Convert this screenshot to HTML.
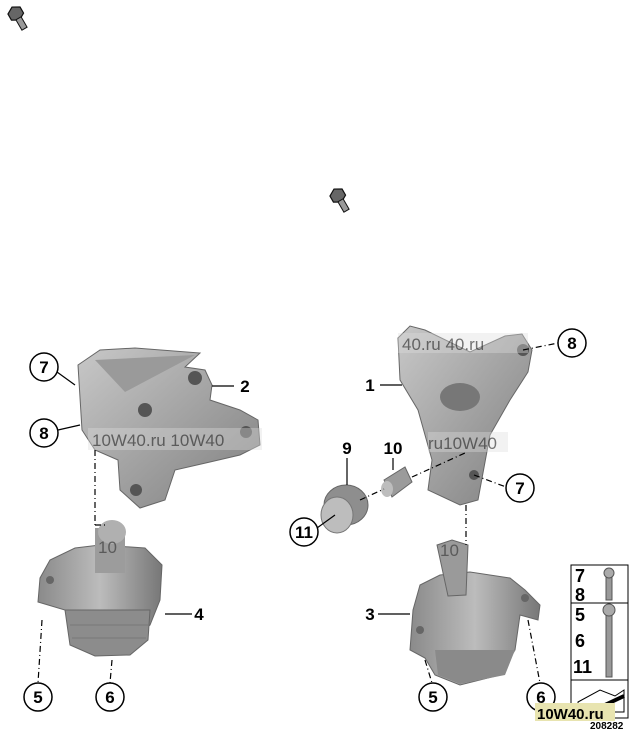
<!DOCTYPE html>
<html><head><meta charset="utf-8"><style>
html,body{margin:0;padding:0;background:#fff}
svg{display:block}
text{font-family:"Liberation Sans",sans-serif;font-weight:bold;fill:#000}
.wm{font-weight:normal;fill:#444;font-size:17px}
</style></head><body>
<svg width="629" height="733" viewBox="0 0 629 733" xmlns="http://www.w3.org/2000/svg">
<defs>
<linearGradient id="g1" x1="0" y1="0" x2="1" y2="1"><stop offset="0" stop-color="#c8c8c8"/><stop offset="1" stop-color="#7e7e7e"/></linearGradient>
<linearGradient id="g2" x1="0" y1="0" x2="1" y2="0"><stop offset="0" stop-color="#8a8a8a"/><stop offset="0.5" stop-color="#bcbcbc"/><stop offset="1" stop-color="#777"/></linearGradient>
</defs>
<!-- bolt icons -->
<g transform="translate(16,14) rotate(-30)"><polygon points="-7,-4 0,-8 7,-4 7,3 0,7 -7,3" fill="#666" stroke="#111" stroke-width="1.2"/><rect x="-3" y="5" width="6" height="12" fill="#999" stroke="#111"/></g>
<g transform="translate(338,196) rotate(-30)"><polygon points="-7,-4 0,-8 7,-4 7,3 0,7 -7,3" fill="#666" stroke="#111" stroke-width="1.2"/><rect x="-3" y="5" width="6" height="12" fill="#999" stroke="#111"/></g>

<!-- left bracket -->
<path d="M78,365 L100,350 L135,348 L200,353 L185,367 L205,370 L212,385 L210,400 L240,410 L258,420 L260,445 L240,455 L210,462 L175,470 L165,500 L140,508 L120,490 L118,460 L95,450 L82,430 Z" fill="url(#g1)" stroke="#666"/>
<path d="M95,360 L195,355 L125,392 Z" fill="#9a9a9a"/>
<circle cx="195" cy="378" r="7" fill="#555"/><circle cx="145" cy="410" r="7" fill="#555"/><circle cx="246" cy="432" r="6" fill="#555"/><circle cx="136" cy="490" r="6" fill="#555"/>
<!-- left mount -->
<path d="M40,578 L50,560 L75,548 L100,545 L145,548 L162,565 L160,600 L150,625 L130,640 L100,648 L75,640 L65,610 L38,602 Z" fill="url(#g2)" stroke="#666"/>
<rect x="95" y="528" width="30" height="45" fill="#9c9c9c"/><ellipse cx="112" cy="532" rx="14" ry="12" fill="#b0b0b0"/>
<path d="M65,610 L150,610 L148,640 L130,655 L95,656 L70,645 Z" fill="#8c8c8c" stroke="#666"/>
<path d="M70,625 L148,625 M72,638 L146,638" stroke="#777"/>
<circle cx="50" cy="580" r="4" fill="#666"/>

<!-- right bracket -->
<path d="M398,338 L410,326 L425,330 L470,352 L505,336 L522,334 L532,350 L528,372 L510,400 L490,435 L478,500 L460,505 L428,490 L432,460 L418,410 L400,380 Z" fill="url(#g1)" stroke="#666"/>
<ellipse cx="460" cy="397" rx="20" ry="14" fill="#777"/>
<circle cx="523" cy="350" r="6" fill="#555"/><circle cx="474" cy="475" r="5" fill="#555"/>
<!-- bushings -->
<ellipse cx="346" cy="505" rx="22" ry="20" fill="#8e8e8e" stroke="#666"/><ellipse cx="337" cy="515" rx="16" ry="18" fill="#bdbdbd" stroke="#777"/>
<path d="M384,480 L405,467 L412,482 L392,497 Z" fill="#9b9b9b" stroke="#666"/><ellipse cx="387" cy="489" rx="6" ry="8" fill="#bdbdbd"/>
<!-- right mount -->
<path d="M413,610 L420,585 L440,575 L470,572 L510,578 L525,590 L540,605 L538,620 L520,615 L515,650 L500,675 L460,685 L435,675 L425,658 L410,650 Z" fill="url(#g2)" stroke="#666"/>
<path d="M437,545 L452,540 L468,545 L466,595 L448,596 Z" fill="#9a9a9a" stroke="#666"/>
<path d="M435,650 L515,650 L505,675 L460,684 L438,675 Z" fill="#8a8a8a"/>
<circle cx="420" cy="630" r="4" fill="#666"/><circle cx="525" cy="598" r="4" fill="#666"/>

<!-- watermarks -->
<g opacity="0.75">
<rect x="88" y="428" width="174" height="22" fill="#ddd" opacity="0.5"/>
<text class="wm" x="92" y="446">10W40.ru 10W40</text>
<rect x="398" y="333" width="130" height="20" fill="#ddd" opacity="0.5"/>
<text class="wm" x="402" y="350">40.ru  40.ru</text>
<rect x="428" y="432" width="80" height="20" fill="#ddd" opacity="0.5"/>
<text class="wm" x="428" y="449">ru10W40</text>
<text class="wm" x="98" y="553">10</text><text class="wm" x="440" y="556">10</text>
</g>

<!-- leader lines -->
<g stroke="#000" stroke-width="1.2" fill="none">
<line x1="57" y1="372" x2="75" y2="385"/><line x1="58" y1="430" x2="80" y2="425"/>
<line x1="212" y1="386" x2="234" y2="386"/><line x1="165" y1="614" x2="192" y2="614"/>
<line x1="380" y1="385" x2="402" y2="385"/><line x1="378" y1="614" x2="410" y2="614"/>
<line x1="347" y1="458" x2="347" y2="485"/><line x1="393" y1="458" x2="393" y2="470"/>
<line x1="317" y1="528" x2="335" y2="515"/>
<g stroke-dasharray="6,3,1,3">
<line x1="95" y1="450" x2="95" y2="525"/><line x1="95" y1="525" x2="105" y2="525"/>
<line x1="523" y1="350" x2="558" y2="343"/><line x1="474" y1="475" x2="506" y2="487"/>
<line x1="412" y1="477" x2="465" y2="453"/><line x1="360" y1="500" x2="384" y2="489"/>
<line x1="466" y1="505" x2="466" y2="545"/>
<line x1="42" y1="620" x2="38" y2="683"/><line x1="112" y1="660" x2="110" y2="683"/>
<line x1="425" y1="660" x2="432" y2="683"/><line x1="528" y1="620" x2="540" y2="683"/>
</g>
</g>
<!-- circles -->
<g fill="#fff" stroke="#000" stroke-width="1.5">
<circle cx="44" cy="367" r="14"/><circle cx="44" cy="433" r="14"/><circle cx="38" cy="697" r="14"/><circle cx="110" cy="697" r="14"/>
<circle cx="572" cy="343" r="14"/><circle cx="520" cy="488" r="14"/><circle cx="304" cy="532" r="14"/><circle cx="433" cy="697" r="14"/><circle cx="541" cy="697" r="14"/>
</g>
<g font-size="17" text-anchor="middle">
<text x="44" y="373">7</text><text x="44" y="439">8</text><text x="38" y="703">5</text><text x="110" y="703">6</text>
<text x="572" y="349">8</text><text x="520" y="494">7</text><text x="304" y="538">11</text><text x="433" y="703">5</text><text x="541" y="703">6</text>
<text x="245" y="392">2</text><text x="199" y="620">4</text><text x="370" y="391">1</text><text x="370" y="620">3</text>
<text x="347" y="454">9</text><text x="393" y="454">10</text>
</g>
<!-- legend -->
<rect x="571" y="565" width="57" height="153" fill="#fff" stroke="#000"/>
<line x1="571" y1="603" x2="628" y2="603" stroke="#000"/><line x1="571" y1="680" x2="628" y2="680" stroke="#000"/>
<g font-size="18"><text x="575" y="582">7</text><text x="575" y="601">8</text><text x="575" y="621">5</text><text x="575" y="647">6</text><text x="573" y="673">11</text></g>
<rect x="606" y="575" width="6" height="25" fill="#999" stroke="#555"/><circle cx="609" cy="573" r="5" fill="#aaa" stroke="#555"/>
<rect x="606" y="612" width="6" height="65" fill="#999" stroke="#555"/><circle cx="609" cy="610" r="6" fill="#aaa" stroke="#555"/>
<path d="M578,702 L600,690 L615,696 L624,690 L624,712 L600,712 L578,712 Z" fill="none" stroke="#000"/>
<line x1="590" y1="712" x2="624" y2="696" stroke="#000" stroke-width="4"/>
<rect x="535" y="703" width="80" height="18" fill="#e8e4b0"/>
<text x="537" y="719" font-size="15" font-weight="normal" fill="#333">10W40.ru</text>
<text x="590" y="729" font-size="10" font-weight="normal" fill="#444">208282</text>
</svg>
</body></html>
